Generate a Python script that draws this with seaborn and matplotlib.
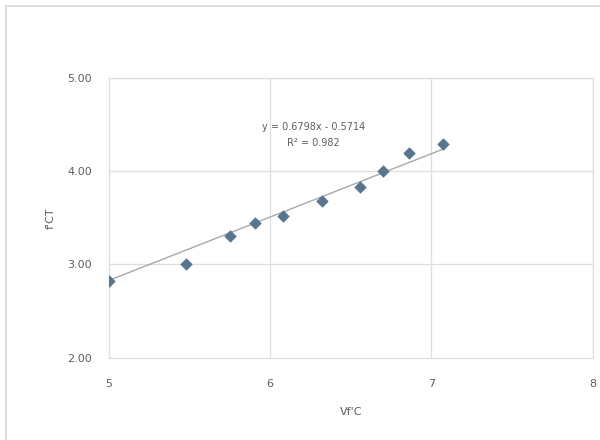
import numpy as np
import pandas as pd
import matplotlib
matplotlib.use("Agg")
import matplotlib.pyplot as plt
import seaborn as sns

# Measured values
sqrt_fc = [5.00, 5.48, 5.75, 5.91, 6.08, 6.32, 6.56, 6.70, 6.86, 7.07]
fct = [2.82, 3.01, 3.30, 3.44, 3.52, 3.68, 3.83, 4.00, 4.19, 4.29]

# Linear trendline as reported
slope = 0.6798
intercept = -0.5714
r_squared = 0.982

x_ticks = [5, 6, 7, 8]
y_ticks = [2.00, 3.00, 4.00, 5.00]

df = pd.DataFrame({"x": sqrt_fc, "y": fct})

sns.set_style("white")
plt.rcParams["font.family"] = ["DejaVu Sans"]

fig = plt.figure(figsize=(6.0, 4.4), dpi=100)
ax = fig.add_axes([0.181, 0.187, 0.807, 0.636])

grid_c = "#dedede"
text_c = "#5e5e5e"

# trendline over the data range
xs = np.array([min(sqrt_fc), max(sqrt_fc)])
ax.plot(xs, slope * xs + intercept, color="#a8a8a8", lw=1.0, zorder=2)

sns.scatterplot(data=df, x="x", y="y", ax=ax, marker="D", s=34,
                color="#587590", edgecolor="#587590", linewidth=0.5, zorder=3)

ax.set_xlim(5, 8)
ax.set_ylim(2, 5)
ax.set_xticks(x_ticks)
ax.set_yticks(y_ticks)
ax.set_xticklabels([str(t) for t in x_ticks])
ax.set_yticklabels([f"{t:.2f}" for t in y_ticks])
ax.grid(True, color=grid_c, lw=0.9)
ax.set_axisbelow(True)
for s in ax.spines.values():
    s.set_color(grid_c)
    s.set_linewidth(0.9)
ax.tick_params(axis="both", length=0, labelsize=8, colors=text_c)
ax.tick_params(axis="y", pad=12)
ax.tick_params(axis="x", pad=15)

ax.set_xlabel("Vf'C", fontsize=8, color=text_c, labelpad=13)
ax.set_ylabel("f'CT", fontsize=8, color=text_c, labelpad=8)

sign = "-" if intercept < 0 else "+"
ax.text(6.27, 4.39, f"y = {slope:.4f}x {sign} {abs(intercept):.4f}\nR² = {r_squared:.3f}",
        ha="center", va="center", fontsize=7, color=text_c, linespacing=1.75)

# chart area border
fig.patches.append(plt.Rectangle((0.010, -0.05), 1.2, 1.036, transform=fig.transFigure,
                                 fill=False, edgecolor="#d9d9d9", lw=1.2))

fig.savefig("out.png", dpi=100, facecolor="white")
